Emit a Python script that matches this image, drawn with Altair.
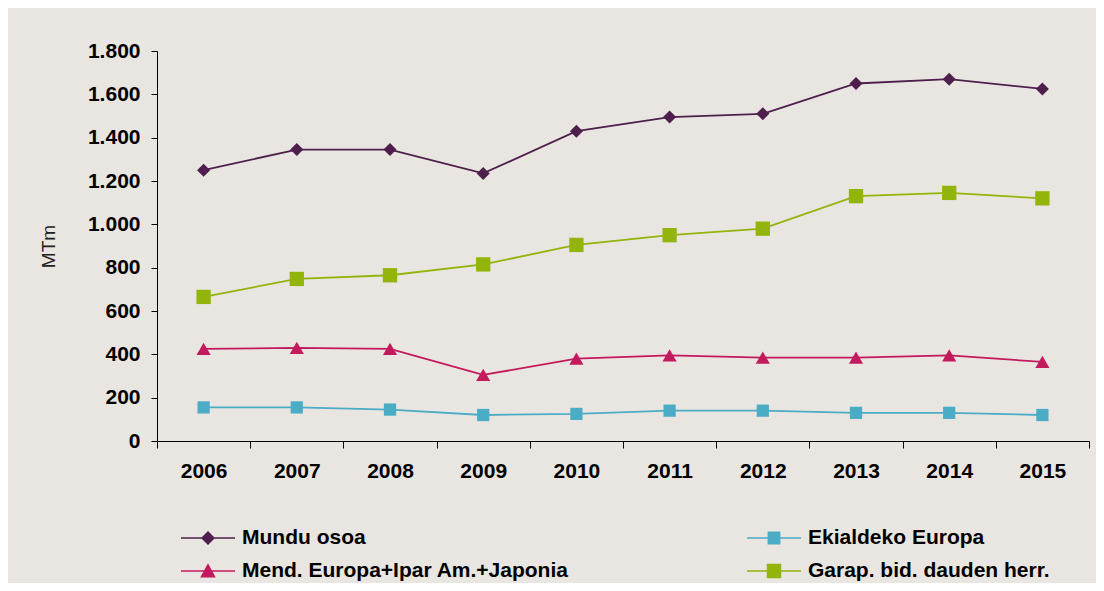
import altair as alt
import pandas as pd

years = ["2006", "2007", "2008", "2009", "2010", "2011", "2012", "2013", "2014", "2015"]
series = ["Mundu osoa", "Mend. Europa+Ipar Am.+Japonia", "Ekialdeko Europa", "Garap. bid. dauden herr."]
mundu = [1250, 1345, 1345, 1235, 1430, 1495, 1510, 1650, 1670, 1625]
mend = [425, 430, 425, 305, 380, 395, 385, 385, 395, 365]
ekialde = [155, 155, 145, 120, 125, 140, 140, 130, 130, 120]
garap = [665, 748, 765, 815, 905, 950, 980, 1130, 1145, 1120]
y_ticks = [0, 200, 400, 600, 800, 1000, 1200, 1400, 1600, 1800]

colors = ["#4E1F4C", "#C3195D", "#4BACC6", "#93B40A"]
marker_shapes = ["diamond", "triangle-up", "square", "square"]
marker_sizes = [170, 200, 150, 205]
legend_paths = [
    "M-1,0H1M-0.22,0L0,-0.22L0.22,0L0,0.22Z",
    "M-1,0H1M-0.24,0.21L0,-0.23L0.24,0.21Z",
    "M-1,0H1M-0.21,-0.21H0.21V0.21H-0.21Z",
    "M-1,0H1M-0.24,-0.24H0.24V0.24H-0.24Z",
]

rows = []
for name, vals in zip(series, [mundu, mend, ekialde, garap]):
    for yr, v in zip(years, vals):
        rows.append({"series": name, "year": yr, "value": v})
df = pd.DataFrame(rows)

FONT = "Liberation Sans"

x_enc = alt.X(
    "year:O",
    bandPosition=0.5,
    scale=alt.Scale(type="band", paddingInner=0, paddingOuter=0),
    axis=alt.Axis(title=None, labelAngle=0, tickBand="extent", tickSize=7,
                  labelPadding=12, labelFontSize=21),
)
y_enc = alt.Y(
    "value:Q",
    scale=alt.Scale(domain=[0, 1800], nice=False),
    axis=alt.Axis(values=y_ticks, title="MTm", tickSize=6, labelPadding=11,
                  labelExpr="replace(format(datum.value, ','), ',', '.')",
                  titleFontSize=19, titleFontWeight="normal", titleX=-109, titleY=195,
                  titleBaseline="middle", titleAlign="center", labelFontSize=21),
)

# per-entry legend symbol (line + marker), chosen from the lists above
shape_expr = "'circle'"
for name, path in reversed(list(zip(series, legend_paths))):
    shape_expr = f"datum.value === '{name}' ? '{path}' : ({shape_expr})"

leg = alt.Legend(
    title=None, orient="none", legendX=23, legendY=475, columns=2,
    columnPadding=177, rowPadding=9, clipHeight=24, labelOffset=6,
    symbolSize=2916, symbolType=alt.ExprRef(expr=shape_expr),
    symbolFillColor=alt.ExprRef(expr="scale('color', datum.value)"),
    symbolStrokeWidth=1.5, symbolOpacity=1, padding=0,
    labelLimit=600, labelFont=FONT, labelFontSize=21, labelFontWeight="bold",
    labelColor="black",
)

lines = alt.Chart(df).mark_line(strokeWidth=1.8).encode(
    x=x_enc, y=y_enc,
    color=alt.Color("series:N", scale=alt.Scale(domain=series, range=colors), legend=leg),
)

layers = [lines]
for name, col, shp, sz in zip(series, colors, marker_shapes, marker_sizes):
    layers.append(
        alt.Chart(df).transform_filter(alt.datum.series == name).mark_point(
            shape=shp, filled=True, opacity=1, size=sz, color=col
        ).encode(x=x_enc, y=y_enc)
    )

chart = alt.layer(*layers).properties(
    width=932, height=390,
    background="#E9E6E1",
    autosize=alt.AutoSizeParams(type="none"),
    padding={"left": 149, "top": 43, "right": 7, "bottom": 142},
).configure_view(stroke=None).configure_axis(
    labelFont=FONT, titleFont=FONT, labelFontWeight="bold", labelColor="black",
    labelFontSize=21, titleFontSize=19,
    titleColor="#222222", domainColor="black", tickColor="black", domainWidth=1,
    tickWidth=1, grid=False,
)

chart.save("out.html", embed_options={"renderer": "svg", "actions": False})
